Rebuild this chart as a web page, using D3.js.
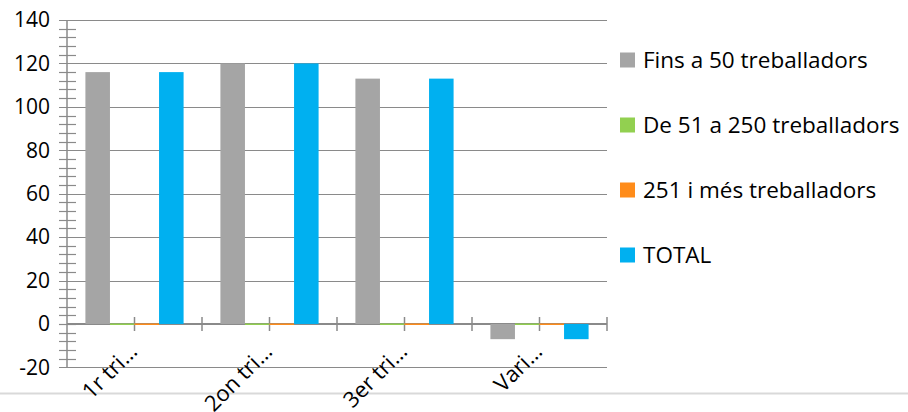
<!DOCTYPE html>
<html>
<head>
<meta charset="utf-8">
<script src="https://cdn.jsdelivr.net/npm/d3@7"></script>
<style>
  html, body { margin: 0; padding: 0; background: #fff; }
  svg { display: block; }
  text { font-family: "Open Sans", Lato, sans-serif; fill: #000; }
</style>
</head>
<body>
<script>
const categories = ["1r tri…", "2on tri…", "3er tri…", "Vari…"];
const seriesNames = ["Fins a 50 treballadors", "De 51 a 250 treballadors", "251 i més treballadors", "TOTAL"];
const seriesColors = ["#a5a5a5", "#92d050", "#ff8c1a", "#00b0f0"];
const fins50 = [116, 120, 113, -7];
const de51a250 = [0, 0, 0, 0];
const mes251 = [0, 0, 0, 0];
const total = [116, 120, 113, -7];
const yTicks = [-20, 0, 20, 40, 60, 80, 100, 120, 140];

const seriesValues = [fins50, de51a250, mes251, total];

const W = 908, H = 412;
const svg = d3.select("body").append("svg").attr("width", W).attr("height", H);

const x0 = 67, x1 = 607;
const y = d3.scaleLinear().domain([-20, 140]).range([367.4, 20]);
const xCat = d3.scaleBand().domain(categories).range([x0, x1]).padding(0);
const xSer = d3.scaleBand().domain(seriesNames).range([0, xCat.bandwidth()])
  .paddingInner(0).paddingOuter(0.75);

const gridColor = "#8a8a8a";

// bottom light border line
svg.append("line").attr("x1", 0).attr("x2", W).attr("y1", 393.5).attr("y2", 393.5)
  .attr("stroke", "#d9d9d9").attr("stroke-width", 2);

// gridlines
svg.append("g").selectAll("line").data(yTicks.filter(d => d !== 0)).join("line")
  .attr("x1", 59).attr("x2", x1)
  .attr("y1", d => Math.round(y(d)) + 0.5).attr("y2", d => Math.round(y(d)) + 0.5)
  .attr("stroke", gridColor).attr("stroke-width", 1.2);

// minor ticks on y axis
const minor = d3.range(-20, 141, 4).filter(d => d % 20 !== 0);
svg.append("g").selectAll("line").data(minor).join("line")
  .attr("x1", 59).attr("x2", 76)
  .attr("y1", d => Math.round(y(d)) + 0.5).attr("y2", d => Math.round(y(d)) + 0.5)
  .attr("stroke", gridColor).attr("stroke-width", 1.2);
svg.append("line").attr("x1", 59).attr("x2", 76)
  .attr("y1", Math.round(y(0)) + 0.5).attr("y2", Math.round(y(0)) + 0.5)
  .attr("stroke", gridColor).attr("stroke-width", 1.2);

// y axis line
svg.append("line").attr("x1", x0).attr("x2", x0).attr("y1", y(140)).attr("y2", y(-20))
  .attr("stroke", gridColor).attr("stroke-width", 1.5);

// y labels
const yAxis = d3.axisLeft(y).tickValues(yTicks).tickSize(0).tickPadding(0).tickFormat(d => String(d));
const yg = svg.append("g").attr("transform", "translate(50,0)").call(yAxis);
yg.select(".domain").remove();
yg.selectAll("text").style("font-size", "21px").attr("font-family", "'Open Sans', sans-serif").attr("fill", "#000");

// x axis line at 0
svg.append("line").attr("x1", x0).attr("x2", x1).attr("y1", y(0)).attr("y2", y(0))
  .attr("stroke", gridColor).attr("stroke-width", 2);

// x ticks (half-category positions)
const tickPos = d3.range(1, 9).map(k => x0 + k * xCat.step() / 2);
svg.append("g").selectAll("line").data(tickPos).join("line")
  .attr("x1", d => d).attr("x2", d => d).attr("y1", y(0) - 7).attr("y2", y(0) + 7)
  .attr("stroke", gridColor).attr("stroke-width", 1.5);

// bars
const rows = [];
seriesValues.forEach((vals, si) => vals.forEach((v, ci) => rows.push({ s: seriesNames[si], c: categories[ci], v, color: seriesColors[si] })));
svg.append("g").selectAll("rect").data(rows).join("rect")
  .attr("x", d => xCat(d.c) + xSer(d.s))
  .attr("width", xSer.bandwidth())
  .attr("y", d => d.v === 0 ? y(0) - 0.5 : Math.min(y(d.v), y(0)))
  .attr("height", d => d.v === 0 ? 1.5 : Math.abs(y(d.v) - y(0)))
  .attr("fill", d => d.color);

// x labels rotated
svg.append("g").selectAll("text").data(categories).join("text")
  .attr("transform", d => `translate(${xCat(d) + xCat.bandwidth() / 2 + 4},${353}) rotate(-45)`)
  .attr("text-anchor", "end")
  .style("font-size", "22px")
  .text(d => d);

// legend
const lg = svg.append("g");
seriesNames.forEach((name, i) => {
  const cy = 60 + i * 65;
  lg.append("rect").attr("x", 620).attr("y", cy - 7.5).attr("width", 15).attr("height", 15)
    .attr("fill", seriesColors[i]);
  lg.append("text").attr("x", 643).attr("y", cy).attr("dy", "0.36em")
    .style("font-size", "22.5px").text(name);
});
</script>
</body>
</html>
